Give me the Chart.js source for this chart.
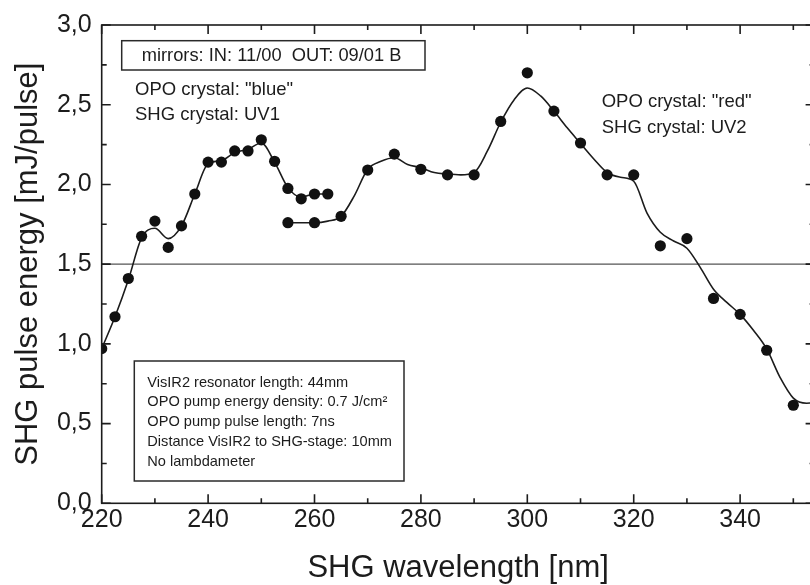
<!DOCTYPE html>
<html>
<head>
<meta charset="utf-8">
<script src="https://cdn.jsdelivr.net/npm/chart.js@4.4.1/dist/chart.umd.min.js"></script>
<style>
  html, body { margin: 0; padding: 0; background: #fff; overflow: hidden; }
  #wrap { width: 830px; height: 585px; }
</style>
</head>
<body>
<div id="wrap"><canvas id="c" width="830" height="585"></canvas></div>
<script>
// Measured SHG pulse energies, OPO crystal "blue" / SHG crystal UV1
const blueWavelengths = [220, 222.5, 225, 227.5, 230, 232.5, 235, 237.5, 240, 242.5, 245, 247.5, 250, 252.5, 255, 257.5, 260, 262.5];
const blueEnergies    = [0.97, 1.17, 1.41, 1.675, 1.77, 1.605, 1.74, 1.94, 2.14, 2.14, 2.21, 2.21, 2.28, 2.145, 1.975, 1.91, 1.94, 1.94];

// Measured SHG pulse energies, OPO crystal "red" / SHG crystal UV2
const redWavelengths = [255, 260, 265, 270, 275, 280, 285, 290, 295, 300, 305, 310, 315, 320, 325, 330, 335, 340, 345, 350];
const redEnergies    = [1.76, 1.76, 1.80, 2.09, 2.19, 2.095, 2.06, 2.06, 2.395, 2.70, 2.46, 2.26, 2.06, 2.06, 1.615, 1.66, 1.285, 1.185, 0.96, 0.615];

// Smoothed trend curves
const blueFitWavelengths = [220, 222.5, 225, 227.5, 230, 232.5, 235, 237.5, 240, 242.5, 245, 247.5, 250, 252.5, 255, 257.5, 260, 262.5];
const blueFitEnergies    = [0.97, 1.17, 1.40, 1.665, 1.725, 1.66, 1.74, 1.94, 2.13, 2.15, 2.20, 2.22, 2.26, 2.14, 1.98, 1.92, 1.94, 1.94];

const redFitWavelengths = [255, 257.5, 260, 262.5, 265, 267.5, 270, 272.5, 275, 277.5, 280, 282.5, 285, 287.5, 290, 292.5, 295, 297.5, 300, 302.5, 305, 307.5, 310, 312.5, 315, 317.5, 320, 322.5, 325, 327.5, 330, 332.5, 335, 337.5, 340, 342.5, 345, 347.5, 350, 352.5, 355];
const redFitEnergies    = [1.76, 1.76, 1.76, 1.77, 1.80, 1.93, 2.095, 2.145, 2.167, 2.125, 2.105, 2.075, 2.065, 2.06, 2.075, 2.21, 2.39, 2.53, 2.605, 2.555, 2.46, 2.355, 2.257, 2.16, 2.075, 2.045, 2.02, 1.82, 1.70, 1.645, 1.60, 1.48, 1.343, 1.26, 1.185, 1.085, 0.968, 0.79, 0.66, 0.628, 0.635];

// Horizontal reference level
const referenceLevel = [1.5];

// Axis ticks
const xTickLabels = [220, 240, 260, 280, 300, 320, 340];
const yTickLabels = [0, 0.5, 1.0, 1.5, 2.0, 2.5, 3.0];
const xMinorStep = 10;
const yMinorStep = 0.25;

const X_MIN = 220, X_MAX = 354, Y_MIN = 0, Y_MAX = 3;
const FONT = '"Liberation Sans", Arial, Helvetica, sans-serif';
const INK = '#1c1c1c';

const toPoints = (xs, ys) => xs.map((x, i) => ({ x, y: ys[i] }));

// Box frame with inward major/minor ticks on all four sides
const frameTicks = {
  id: 'frameTicks',
  afterDatasetsDraw(chart) {
    const { ctx, chartArea: a, scales: { x, y } } = chart;
    ctx.save();
    ctx.strokeStyle = INK;
    ctx.lineWidth = 1.6;
    ctx.beginPath();
    for (let v = X_MIN; v <= X_MAX + 1e-9; v += xMinorStep) {
      const px = x.getPixelForValue(v);
      const len = xTickLabels.includes(v) ? 9 : 5;
      ctx.moveTo(px, a.bottom); ctx.lineTo(px, a.bottom - len);
      ctx.moveTo(px, a.top);    ctx.lineTo(px, a.top + len);
    }
    for (let v = Y_MIN; v <= Y_MAX + 1e-9; v += yMinorStep) {
      const py = y.getPixelForValue(v);
      const major = yTickLabels.some(t => Math.abs(t - v) < 1e-9);
      const len = major ? 9 : 5;
      ctx.moveTo(a.left, py);  ctx.lineTo(a.left + len, py);
      ctx.moveTo(a.right, py); ctx.lineTo(a.right - len, py);
    }
    ctx.stroke();
    ctx.strokeRect(a.left, a.top, a.right - a.left, a.bottom - a.top);
    ctx.restore();
  }
};

// Text annotations describing the set-up
const notes = {
  id: 'notes',
  afterDraw(chart) {
    const { ctx } = chart;
    ctx.save();
    ctx.fillStyle = INK;
    ctx.strokeStyle = '#2a2a2a';
    ctx.lineWidth = 1.5;
    ctx.textBaseline = 'alphabetic';
    ctx.textAlign = 'left';

    ctx.strokeRect(121.7, 40.7, 303.3, 29.3);
    ctx.font = '18.3px ' + FONT;
    ctx.fillText('mirrors: IN: 11/00  OUT: 09/01 B', 141.7, 60.7);

    ctx.font = '18.5px ' + FONT;
    ctx.fillText('OPO crystal: "blue"', 135, 95);
    ctx.fillText('SHG crystal: UV1', 135, 120);
    ctx.fillText('OPO crystal: "red"', 601.7, 107.3);
    ctx.fillText('SHG crystal: UV2', 601.7, 133.3);

    ctx.strokeRect(134.3, 361, 269.7, 120);
    ctx.font = '14.6px ' + FONT;
    const lines = [
      'VisIR2 resonator length: 44mm',
      'OPO pump energy density: 0.7 J/cm\u00B2',
      'OPO pump pulse length: 7ns',
      'Distance VisIR2 to SHG-stage: 10mm',
      'No lambdameter'
    ];
    const baselines = [386.7, 406.2, 426, 446, 465.5];
    lines.forEach((t, i) => ctx.fillText(t, 147.3, baselines[i]));
    ctx.restore();
  }
};

new Chart(document.getElementById('c'), {
  type: 'scatter',
  data: {
    datasets: [
      {
        label: 'blue',
        data: toPoints(blueWavelengths, blueEnergies),
        pointRadius: 5.6, pointBackgroundColor: '#111', pointBorderWidth: 0,
        order: 0
      },
      {
        label: 'red',
        data: toPoints(redWavelengths, redEnergies),
        pointRadius: 5.6, pointBackgroundColor: '#111', pointBorderWidth: 0,
        order: 0
      },
      {
        type: 'line', label: 'blue fit',
        data: toPoints(blueFitWavelengths, blueFitEnergies),
        showLine: true, pointRadius: 0, borderColor: INK, borderWidth: 1.6,
        cubicInterpolationMode: 'monotone', fill: false, order: 1
      },
      {
        type: 'line', label: 'red fit',
        data: toPoints(redFitWavelengths, redFitEnergies),
        showLine: true, pointRadius: 0, borderColor: INK, borderWidth: 1.6,
        cubicInterpolationMode: 'monotone', fill: false, order: 1
      },
      {
        type: 'line', label: 'reference',
        data: [{ x: X_MIN, y: referenceLevel[0] }, { x: X_MAX, y: referenceLevel[0] }],
        showLine: true, pointRadius: 0, borderColor: '#555', borderWidth: 1.4,
        fill: false, order: 2
      }
    ]
  },
  options: {
    responsive: false,
    animation: false,
    events: [],
    layout: { padding: { left: 0, top: 24, right: 15.4, bottom: 0 } },
    plugins: { legend: { display: false }, tooltip: { enabled: false } },
    scales: {
      x: {
        type: 'linear', position: 'bottom', min: X_MIN, max: X_MAX,
        grid: { display: false, drawTicks: false },
        border: { display: false },
        afterBuildTicks: s => { s.ticks = xTickLabels.map(v => ({ value: v })); },
        afterFit: s => { s.height = 81.7; },
        ticks: {
          padding: 2, autoSkip: false, maxRotation: 0, color: INK,
          font: { family: FONT, size: 25 },
          callback: v => String(v)
        },
        title: {
          display: true, text: 'SHG wavelength [nm]', color: INK,
          font: { family: FONT, size: 31, lineHeight: 1 },
          padding: { top: 0, bottom: 1.2 }
        }
      },
      y: {
        type: 'linear', position: 'left', min: Y_MIN, max: Y_MAX,
        grid: { display: false, drawTicks: false },
        border: { display: false },
        afterBuildTicks: s => { s.ticks = yTickLabels.map(v => ({ value: v })); },
        afterFit: s => { s.width = 101.7; },
        ticks: {
          padding: 10, autoSkip: false, color: INK,
          font: { family: FONT, size: 25 },
          callback: v => Number(v).toFixed(1).replace('.', ',')
        },
        title: {
          display: true, text: 'SHG pulse energy [mJ/pulse]', color: INK,
          font: { family: FONT, size: 31, lineHeight: 1 },
          padding: { top: 13, bottom: 0 }
        }
      }
    }
  },
  plugins: [frameTicks, notes]
});
</script>
</body>
</html>
